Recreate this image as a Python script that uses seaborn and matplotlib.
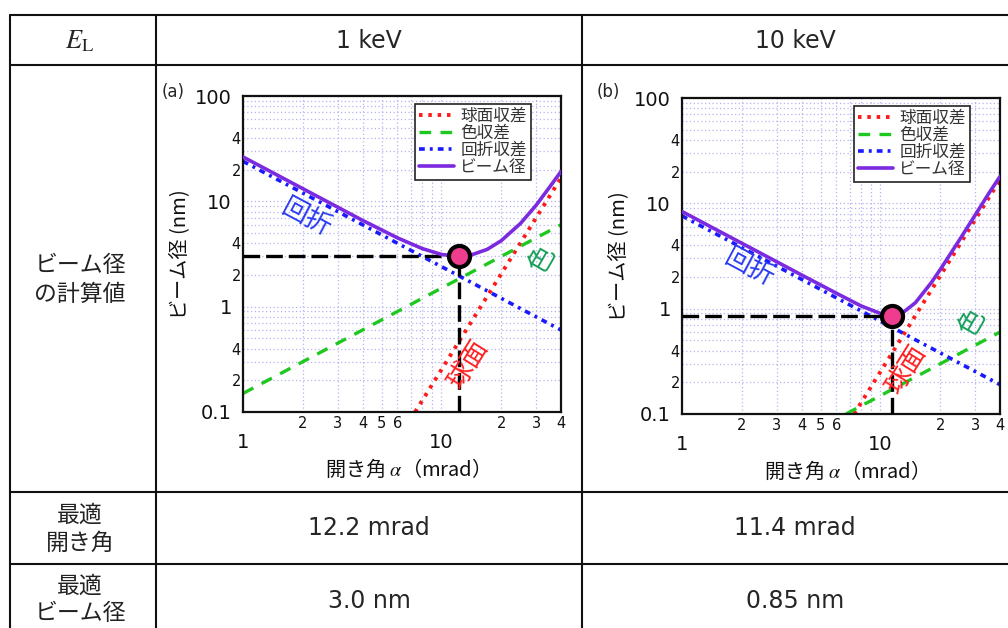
import numpy as np
import pandas as pd
import matplotlib
matplotlib.use("Agg")
import matplotlib.pyplot as plt
from matplotlib.lines import Line2D
from matplotlib.ticker import FixedLocator, FixedFormatter
import seaborn as sns

# ---------------- data ----------------
energies = ["1 keV", "10 keV"]
opt_angle_text = ["12.2 mrad", "11.4 mrad"]
opt_beam_text = ["3.0 nm", "0.85 nm"]
opt_alpha = [12.2, 11.4]          # mrad
opt_beam = [3.0, 0.85]            # nm

# spherical aberration (nm) vs alpha (mrad)
sph_alpha = [7.36, 40.0]
sph_size = [0.1, 16.7]

# chromatic aberration
chr_alpha_1k = [1.0, 40.0]
chr_size_1k = [0.15, 6.0]
chr_alpha_10k = [6.7, 40.0]
chr_size_10k = [0.1, 0.6]

# diffraction aberration
dif_alpha = [1.0, 40.0]
dif_size_1k = [24.0, 0.6]
dif_size_10k = [7.6, 0.19]

# total beam diameter
beam_alpha_1k = [1, 1.5, 2, 3, 4, 6, 8, 10, 12.2, 14, 17, 20, 25, 30, 35, 40]
beam_size_1k = [26.4, 17.6, 13.2, 8.8, 6.6, 4.5, 3.56, 3.13, 3.0, 3.08, 3.5,
                4.23, 6.17, 9.2, 13.6, 19.2]
beam_alpha_10k = [1, 2, 3, 4, 6, 8, 10, 11.4, 13, 15, 18, 20, 25, 30, 35, 40]
beam_size_10k = [8.36, 4.18, 2.79, 2.09, 1.40, 1.06, 0.90, 0.85, 0.92, 1.14,
                 1.76, 2.35, 4.5, 7.74, 12.3, 18.0]

legend_labels = ["球面収差", "色収差", "回折収差", "ビーム径"]
panel_tags = ["(a)", "(b)"]

y_major_ticks = [0.1, 1, 10, 100]
y_major_labels = ["0.1", "1", "10", "100"]
y_minor_ticks = [m * d for d in (0.1, 1, 10) for m in range(2, 10)]
y_minor_labels = [("2" if m == 2 else "4" if m == 4 else "")
                  for d in (0.1, 1, 10) for m in range(2, 10)]
x_major_ticks = [1, 10]
x_major_labels = ["1", "10"]
x_minor_ticks = [2, 3, 4, 5, 6, 7, 8, 9, 20, 30, 40]
x_minor_labels = ["2", "3", "4", "5", "6", "", "", "", "2", "3", "4"]

# ---------------- style ----------------
sns.set_theme(style="white")
plt.rcParams["font.family"] = ["DejaVu Sans", "Noto Sans CJK JP"]
JP = "Noto Sans CJK JP"

C_SPH = "#ff1a1a"
C_CHR = "#1ec81e"
C_DIF = "#1a1aff"
C_BEAM = "#7b2ae0"
C_GRID = "#b4b4f0"

W, H = 1008, 628
fig = plt.figure(figsize=(W / 100, H / 100), dpi=100)
fig.patch.set_facecolor("white")


def fx(px):
    return px / W


def fy(py):
    return 1 - py / H


# ---------------- table frame ----------------
line_kw = dict(transform=fig.transFigure, color="#111111", lw=1.5)
for yy in (15, 65, 492, 564):
    fig.add_artist(Line2D([fx(10), fx(1008)], [fy(yy), fy(yy)], **line_kw))
for xx in (10, 156, 582):
    fig.add_artist(Line2D([fx(xx), fx(xx)], [fy(15), fy(628)], **line_kw))

fig.text(fx(80), fy(41), r"$E_{\mathrm{L}}$", math_fontfamily="stix",
         fontsize=19, ha="center", va="center")
for cx, e in zip((369, 795), energies):
    fig.text(fx(cx), fy(41), e, fontsize=17, ha="center", va="center")

for text, yy in (("ビーム径", 265), ("の計算値", 294), ("最適", 515),
                 ("開き角", 543), ("最適", 586), ("ビーム径", 614)):
    fig.text(fx(80), fy(yy), text, family=JP, fontsize=16.5,
             ha="center", va="center", color="#222222")
for cx, a, b in zip((369, 795), opt_angle_text, opt_beam_text):
    fig.text(fx(cx), fy(528), a, fontsize=17, ha="center", va="center")
    fig.text(fx(cx), fy(601), b, fontsize=17, ha="center", va="center")

# ---------------- plots ----------------
panels = [
    dict(rect=(243, 412), tag_xy=(173, 92),
         chr_a=chr_alpha_1k, chr_s=chr_size_1k, dif_s=dif_size_1k,
         beam_a=beam_alpha_1k, beam_s=beam_size_1k,
         notes=[("回折", 2.1, 6.95, -28, "#2a3cf0"),
                ("色", 32.1, 2.77, 60, "#17a05a"),
                ("球面", 13.6, 0.279, 58, "#ff2020")]),
    dict(rect=(682, 414), tag_xy=(608, 92),
         chr_a=chr_alpha_10k, chr_s=chr_size_10k, dif_s=dif_size_10k,
         beam_a=beam_alpha_10k, beam_s=beam_size_10k,
         notes=[("回折", 2.18, 2.44, -28, "#2a3cf0"),
                ("色", 28.9, 0.73, 60, "#17a05a"),
                ("球面", 13.4, 0.262, 58, "#ff2020")]),
]

for i, p in enumerate(panels):
    left, bottom = p["rect"]
    ax = fig.add_axes([fx(left), fy(bottom), 318 / W, 316 / H])
    ax.set_xscale("log")
    ax.set_yscale("log")
    ax.set_xlim(1, 40)
    ax.set_ylim(0.1, 100)
    ax.set_facecolor("white")

    handles = []
    sns.lineplot(x=sph_alpha, y=sph_size, ax=ax, color=C_SPH, lw=2.8,
                 linestyle=(0, (0.9, 1.5)), legend=False)
    handles.append(ax.lines[-1])
    sns.lineplot(x=p["chr_a"], y=p["chr_s"], ax=ax, color=C_CHR, lw=2.4,
                 linestyle=(0, (3.5, 2.8)), legend=False)
    handles.append(ax.lines[-1])
    sns.lineplot(x=dif_alpha, y=p["dif_s"], ax=ax, color=C_DIF, lw=2.6,
                 linestyle=(0, (1.6, 1.4, 0.8, 1.4)), legend=False)
    handles.append(ax.lines[-1])

    # guides to the optimum point
    a0, b0 = opt_alpha[i], opt_beam[i]
    ax.plot([1, a0], [b0, b0], color="black", lw=2.4,
            linestyle=(0, (5, 1.8)), zorder=3)
    ax.plot([a0, a0], [0.1, b0], color="black", lw=2.4,
            linestyle=(0, (5, 1.8)), zorder=3)

    sns.lineplot(x=p["beam_a"], y=p["beam_s"], ax=ax, color=C_BEAM, lw=2.6,
                 legend=False, zorder=4)
    handles.append(ax.lines[-1])

    sns.scatterplot(x=[a0], y=[b0], ax=ax, s=230, color="#ee3d8f",
                    edgecolor="black", linewidth=3.0, zorder=6, legend=False)

    for txt, xa, ya, rot, col in p["notes"]:
        ax.text(xa, ya, txt, family=JP, fontsize=19, color=col,
                rotation=rot, rotation_mode="anchor", ha="center",
                va="center", zorder=5)

    # ticks
    ax.yaxis.set_major_locator(FixedLocator(y_major_ticks))
    ax.yaxis.set_major_formatter(FixedFormatter(y_major_labels))
    ax.yaxis.set_minor_locator(FixedLocator(y_minor_ticks))
    ax.yaxis.set_minor_formatter(FixedFormatter(y_minor_labels))
    ax.xaxis.set_major_locator(FixedLocator(x_major_ticks))
    ax.xaxis.set_major_formatter(FixedFormatter(x_major_labels))
    ax.xaxis.set_minor_locator(FixedLocator(x_minor_ticks))
    ax.xaxis.set_minor_formatter(FixedFormatter(x_minor_labels))

    ax.tick_params(which="both", direction="in", top=False, right=False,
                   color="#111111", width=1.2, labelcolor="#111111")
    ax.tick_params(axis="y", which="major", length=11, pad=8, labelsize=14)
    ax.tick_params(axis="y", which="minor", length=6, pad=1.5, labelsize=10.5)
    ax.tick_params(axis="x", which="major", length=10, pad=15, labelsize=14)
    ax.tick_params(axis="x", which="minor", length=5, pad=3, labelsize=10.5)

    ax.grid(which="both", color=C_GRID, linestyle=(0, (1, 2)), lw=0.9)
    ax.set_axisbelow(True)
    for sp in ax.spines.values():
        sp.set_linewidth(1.6)
        sp.set_color("#111111")

    ax.text(0.5, -0.183, "開き角 $\\alpha$（mrad）", transform=ax.transAxes,
            family=JP, math_fontfamily="stix", fontsize=14.5,
            ha="center", va="center", color="#111111")
    ax.text(-0.199, 0.5, "ビーム径 (nm)", transform=ax.transAxes, family=JP,
            fontsize=14.5, rotation=90, ha="center", va="center",
            color="#111111")

    leg = ax.legend(handles, legend_labels, loc="upper right",
                    bbox_to_anchor=(0.906, 0.975), borderaxespad=0,
                    prop={"family": JP, "size": 12}, handlelength=2.1,
                    handletextpad=0.4, labelspacing=0.0, borderpad=0.25,
                    fancybox=False, framealpha=1, edgecolor="#222222")
    leg.get_frame().set_linewidth(1.2)
    for t in leg.get_texts():
        t.set_color("#333333")

    fig.text(fx(p["tag_xy"][0]), fy(p["tag_xy"][1]), panel_tags[i],
             fontsize=12, ha="center", va="center")

fig.savefig("out.png", dpi=100, facecolor="white")
